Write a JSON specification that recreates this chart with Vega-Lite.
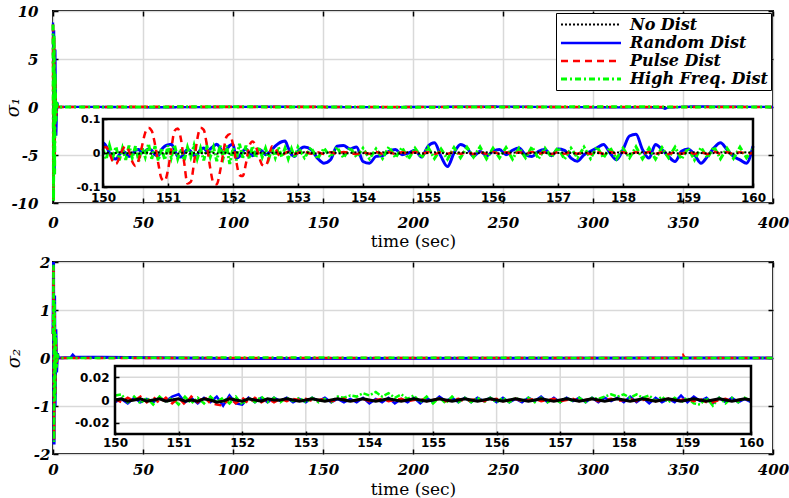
{
"$schema": "https://vega.github.io/schema/vega-lite/v6.json",
"padding": {"left": 3, "top": 3, "right": 10, "bottom": 3},
"spacing": 4,
"config": {
 "view": {"stroke": "black", "strokeWidth": 2},
 "axis": {"labelColor": "black", "tickColor": "black", "labelFlush": false, "labelOverlap": false, "domain": false},
 "line": {"strokeCap": "butt"}
},
"datasets": {
 "tm": [
  {"s":"No Dist","t":0,"v":8.5},{"s":"No Dist","t":0.3,"v":-9.5},{"s":"No Dist","t":0.6,"v":7},{"s":"No Dist","t":0.9,"v":-6},{"s":"No Dist","t":1.2,"v":3},{"s":"No Dist","t":1.6,"v":-1},{"s":"No Dist","t":2.2,"v":0.2},{"s":"No Dist","t":3,"v":0},{"s":"No Dist","t":400,"v":0},
  {"s":"Random Dist","t":0,"v":8.8},{"s":"Random Dist","t":0.3,"v":-9.2},{"s":"Random Dist","t":0.6,"v":8},{"s":"Random Dist","t":0.9,"v":-7},{"s":"Random Dist","t":1.3,"v":6},{"s":"Random Dist","t":1.8,"v":-3},{"s":"Random Dist","t":2.3,"v":0.5},{"s":"Random Dist","t":3,"v":0},{"s":"Random Dist","t":12,"v":0.02},{"s":"Random Dist","t":60,"v":-0.03},{"s":"Random Dist","t":120,"v":0.03},{"s":"Random Dist","t":180,"v":-0.02},{"s":"Random Dist","t":245,"v":0.05},{"s":"Random Dist","t":300,"v":-0.03},{"s":"Random Dist","t":338,"v":-0.05},{"s":"Random Dist","t":340,"v":-0.18},{"s":"Random Dist","t":342,"v":-0.05},{"s":"Random Dist","t":355,"v":0.06},{"s":"Random Dist","t":400,"v":0},
  {"s":"Pulse Dist","t":0,"v":8.6},{"s":"Pulse Dist","t":0.3,"v":-9.6},{"s":"Pulse Dist","t":0.6,"v":7.2},{"s":"Pulse Dist","t":0.9,"v":-6},{"s":"Pulse Dist","t":1.2,"v":3},{"s":"Pulse Dist","t":1.6,"v":-1},{"s":"Pulse Dist","t":2.2,"v":0.2},{"s":"Pulse Dist","t":3,"v":0},{"s":"Pulse Dist","t":150,"v":0.02},{"s":"Pulse Dist","t":152,"v":-0.02},{"s":"Pulse Dist","t":153,"v":0},{"s":"Pulse Dist","t":400,"v":0},
  {"s":"High Freq. Dist","t":0,"v":8.6},{"s":"High Freq. Dist","t":0.3,"v":-9.8},{"s":"High Freq. Dist","t":0.6,"v":7.5},{"s":"High Freq. Dist","t":0.9,"v":-7},{"s":"High Freq. Dist","t":1.2,"v":3.5},{"s":"High Freq. Dist","t":1.6,"v":-1.5},{"s":"High Freq. Dist","t":2.2,"v":0.3},{"s":"High Freq. Dist","t":3,"v":0},{"s":"High Freq. Dist","t":100,"v":0.02},{"s":"High Freq. Dist","t":200,"v":-0.02},{"s":"High Freq. Dist","t":300,"v":0.02},{"s":"High Freq. Dist","t":400,"v":0}
 ],
 "bm": [
  {"t":0,"n":0.5,"r":0.5,"p":0.5,"h":0.5},
  {"t":0.3,"n":1.9,"r":2.0,"p":1.9,"h":1.95},
  {"t":0.6,"n":-1.7,"r":-1.8,"p":-1.7,"h":-1.75},
  {"t":0.9,"n":1.1,"r":1.3,"p":1.1,"h":1.2},
  {"t":1.2,"n":-0.8,"r":-1.0,"p":-0.8,"h":-0.9},
  {"t":1.6,"n":0.4,"r":0.6,"p":0.4,"h":0.5},
  {"t":2.0,"n":-0.15,"r":-0.3,"p":-0.15,"h":-0.2},
  {"t":2.5,"n":0.05,"r":0.1,"p":0.05,"h":0.08},
  {"t":3,"n":0,"r":0,"p":0,"h":0},
  {"t":10,"n":0,"r":0.01,"p":0,"h":0},
  {"t":11,"n":0,"r":0.06,"p":0,"h":0},
  {"t":12,"n":0,"r":0.02,"p":0,"h":0},
  {"t":100,"n":0,"r":-0.01,"p":0,"h":0.01},
  {"t":349,"n":0,"r":0,"p":0,"h":0},
  {"t":350,"n":0,"r":0,"p":0.06,"h":0},
  {"t":351,"n":0,"r":0,"p":0,"h":0},
  {"t":400,"n":0,"r":0,"p":0,"h":0}
 ],
 "tbox": [{"x0":150,"x1":160,"y0":-0.1,"y1":0.1}],
 "bbox": [{"x0":150,"x1":160,"y0":-0.03,"y1":0.03}],
 "gx": [{"g":151},{"g":152},{"g":153},{"g":154},{"g":155},{"g":156},{"g":157},{"g":158},{"g":159}],
 "bgy": [{"g":-0.02},{"g":0},{"g":0.02}],
 "ti": [
  {"t":150.00,"n":0,"r":0.03,"p":0.015,"h":0.012},
  {"t":150.05,"n":0.002,"r":0.02,"p":0.018,"h":-0.018},
  {"t":150.10,"n":0,"r":0.0,"p":0.0,"h":0.022},
  {"t":150.15,"n":-0.002,"r":-0.015,"p":-0.025,"h":-0.012},
  {"t":150.20,"n":0,"r":-0.018,"p":-0.032,"h":0.018},
  {"t":150.25,"n":0.002,"r":-0.005,"p":-0.015,"h":-0.022},
  {"t":150.30,"n":0,"r":0.005,"p":0.01,"h":0.014},
  {"t":150.35,"n":-0.002,"r":0.0,"p":0.02,"h":-0.02},
  {"t":150.40,"n":0,"r":-0.01,"p":0.005,"h":0.022},
  {"t":150.45,"n":0.002,"r":-0.005,"p":-0.025,"h":-0.014},
  {"t":150.50,"n":0,"r":0.008,"p":-0.038,"h":0.02},
  {"t":150.55,"n":-0.002,"r":0.01,"p":-0.02,"h":-0.024},
  {"t":150.60,"n":0,"r":0.0,"p":0.02,"h":0.017},
  {"t":150.65,"n":0.002,"r":0.005,"p":0.06,"h":-0.012},
  {"t":150.70,"n":0,"r":0.012,"p":0.074,"h":0.027},
  {"t":150.75,"n":-0.002,"r":0.008,"p":0.065,"h":-0.017},
  {"t":150.80,"n":0,"r":-0.005,"p":0.025,"h":0.02},
  {"t":150.85,"n":0.002,"r":-0.008,"p":-0.03,"h":-0.022},
  {"t":150.90,"n":0,"r":0.01,"p":-0.075,"h":0.014},
  {"t":150.95,"n":-0.002,"r":0.02,"p":-0.082,"h":-0.02},
  {"t":151.00,"n":0,"r":0.024,"p":-0.05,"h":0.022},
  {"t":151.05,"n":0.002,"r":0.026,"p":0.01,"h":-0.014},
  {"t":151.10,"n":0,"r":0.01,"p":0.065,"h":0.024},
  {"t":151.15,"n":-0.002,"r":-0.01,"p":0.072,"h":-0.017},
  {"t":151.20,"n":0,"r":-0.012,"p":0.04,"h":0.012},
  {"t":151.25,"n":0.002,"r":0.0,"p":-0.03,"h":-0.022},
  {"t":151.30,"n":0,"r":0.01,"p":-0.09,"h":0.017},
  {"t":151.35,"n":-0.002,"r":0.005,"p":-0.085,"h":-0.012},
  {"t":151.40,"n":0,"r":-0.008,"p":-0.03,"h":0.022},
  {"t":151.45,"n":0.002,"r":-0.004,"p":0.04,"h":-0.017},
  {"t":151.50,"n":0,"r":0.01,"p":0.074,"h":0.014},
  {"t":151.55,"n":-0.002,"r":0.015,"p":0.068,"h":-0.022},
  {"t":151.60,"n":0,"r":0.005,"p":0.02,"h":0.02},
  {"t":151.65,"n":0.002,"r":0.012,"p":-0.045,"h":-0.012},
  {"t":151.70,"n":0,"r":0.02,"p":-0.088,"h":0.017},
  {"t":151.75,"n":-0.002,"r":0.026,"p":-0.092,"h":-0.024},
  {"t":151.80,"n":0,"r":0.015,"p":-0.055,"h":0.022},
  {"t":151.85,"n":0.002,"r":0.0,"p":0.0,"h":-0.014},
  {"t":151.90,"n":0,"r":0.01,"p":0.048,"h":0.022},
  {"t":151.95,"n":-0.002,"r":0.022,"p":0.055,"h":-0.032},
  {"t":152.00,"n":0,"r":0.026,"p":0.025,"h":0.014},
  {"t":152.05,"n":0.002,"r":-0.015,"p":-0.025,"h":-0.022},
  {"t":152.10,"n":0,"r":-0.01,"p":-0.065,"h":0.027},
  {"t":152.15,"n":-0.002,"r":0.005,"p":-0.068,"h":-0.014},
  {"t":152.20,"n":0,"r":0.012,"p":-0.03,"h":0.022},
  {"t":152.25,"n":0.002,"r":0.0,"p":0.02,"h":-0.017},
  {"t":152.30,"n":0,"r":-0.008,"p":0.034,"h":0.02},
  {"t":152.35,"n":-0.002,"r":0.0,"p":0.02,"h":-0.014},
  {"t":152.40,"n":0,"r":0.01,"p":-0.01,"h":0.017},
  {"t":152.45,"n":0.002,"r":0.005,"p":-0.035,"h":-0.012},
  {"t":152.50,"n":0,"r":-0.005,"p":-0.038,"h":0.014},
  {"t":152.55,"n":-0.002,"r":0.0,"p":-0.015,"h":-0.017},
  {"t":152.60,"n":0,"r":0.01,"p":0.02,"h":0.012},
  {"t":152.65,"n":0.002,"r":0.02,"p":0.015,"h":-0.014},
  {"t":152.70,"n":0,"r":0.028,"p":-0.005,"h":0.017},
  {"t":152.75,"n":-0.002,"r":0.033,"p":-0.01,"h":-0.012},
  {"t":152.80,"n":0,"r":0.035,"p":0.0,"h":0.014},
  {"t":152.85,"n":0.002,"r":0.015,"p":0.004,"h":-0.017},
  {"t":152.90,"n":0,"r":-0.005,"p":0.0,"h":0.012},
  {"t":152.95,"n":-0.002,"r":-0.01,"p":-0.003,"h":-0.014},
  {"t":153.00,"n":0,"r":0.005,"p":0.0,"h":0.017},
  {"t":153.1,"n":0.002,"r":0.018,"p":0.003,"h":-0.014},
  {"t":153.2,"n":0,"r":0.01,"p":-0.002,"h":0.016},
  {"t":153.3,"n":-0.002,"r":-0.015,"p":0.002,"h":-0.017},
  {"t":153.4,"n":0,"r":-0.03,"p":-0.003,"h":0.014},
  {"t":153.5,"n":0.002,"r":-0.02,"p":0.002,"h":-0.012},
  {"t":153.6,"n":0,"r":0.02,"p":-0.002,"h":0.017},
  {"t":153.7,"n":-0.002,"r":0.022,"p":0.003,"h":-0.014},
  {"t":153.8,"n":0,"r":0.012,"p":0.0,"h":0.016},
  {"t":153.9,"n":0.002,"r":0.018,"p":-0.003,"h":-0.012},
  {"t":154.0,"n":0,"r":-0.025,"p":0.002,"h":0.014},
  {"t":154.1,"n":-0.002,"r":-0.03,"p":-0.002,"h":-0.017},
  {"t":154.2,"n":0,"r":-0.01,"p":0.003,"h":0.012},
  {"t":154.3,"n":0.002,"r":-0.008,"p":-0.002,"h":-0.016},
  {"t":154.4,"n":0,"r":0.005,"p":0.002,"h":0.018},
  {"t":154.5,"n":-0.002,"r":0.01,"p":-0.003,"h":-0.014},
  {"t":154.6,"n":0,"r":-0.005,"p":0.002,"h":0.016},
  {"t":154.7,"n":0.002,"r":0.0,"p":-0.002,"h":-0.017},
  {"t":154.8,"n":0,"r":0.008,"p":0.003,"h":0.014},
  {"t":154.9,"n":-0.002,"r":-0.012,"p":-0.002,"h":-0.014},
  {"t":155.0,"n":0,"r":0.02,"p":0.002,"h":0.017},
  {"t":155.1,"n":0.002,"r":0.03,"p":-0.003,"h":-0.016},
  {"t":155.2,"n":0,"r":-0.01,"p":0.002,"h":0.012},
  {"t":155.3,"n":-0.002,"r":-0.04,"p":-0.002,"h":-0.018},
  {"t":155.4,"n":0,"r":0.0,"p":0.003,"h":0.016},
  {"t":155.5,"n":0.002,"r":0.025,"p":-0.002,"h":-0.014},
  {"t":155.6,"n":0,"r":0.015,"p":0.002,"h":0.017},
  {"t":155.7,"n":-0.002,"r":-0.01,"p":-0.003,"h":-0.012},
  {"t":155.8,"n":0,"r":0.005,"p":0.002,"h":0.018},
  {"t":155.9,"n":0.002,"r":-0.008,"p":-0.002,"h":-0.017},
  {"t":156.0,"n":0,"r":0.005,"p":0.003,"h":0.014},
  {"t":156.1,"n":-0.002,"r":0.01,"p":-0.002,"h":-0.014},
  {"t":156.2,"n":0,"r":-0.005,"p":0.002,"h":0.016},
  {"t":156.3,"n":0.002,"r":0.008,"p":-0.003,"h":-0.018},
  {"t":156.4,"n":0,"r":0.015,"p":0.002,"h":0.014},
  {"t":156.5,"n":-0.002,"r":-0.005,"p":-0.002,"h":-0.014},
  {"t":156.6,"n":0,"r":-0.01,"p":0.003,"h":0.018},
  {"t":156.7,"n":0.002,"r":0.005,"p":-0.002,"h":-0.017},
  {"t":156.8,"n":0,"r":0.01,"p":0.002,"h":0.014},
  {"t":156.9,"n":-0.002,"r":-0.008,"p":-0.003,"h":-0.012},
  {"t":157.0,"n":0,"r":0.012,"p":0.002,"h":0.016},
  {"t":157.1,"n":0.002,"r":0.008,"p":-0.002,"h":-0.018},
  {"t":157.2,"n":0,"r":-0.015,"p":0.003,"h":0.014},
  {"t":157.3,"n":-0.002,"r":-0.024,"p":-0.002,"h":-0.014},
  {"t":157.4,"n":0,"r":-0.005,"p":0.002,"h":0.017},
  {"t":157.5,"n":0.002,"r":0.005,"p":-0.003,"h":-0.016},
  {"t":157.6,"n":0,"r":0.015,"p":0.002,"h":0.018},
  {"t":157.7,"n":-0.002,"r":0.025,"p":-0.002,"h":-0.014},
  {"t":157.8,"n":0,"r":0.0,"p":0.003,"h":0.016},
  {"t":157.9,"n":0.002,"r":-0.02,"p":-0.002,"h":-0.017},
  {"t":158.0,"n":0,"r":0.01,"p":0.002,"h":0.014},
  {"t":158.1,"n":-0.002,"r":0.05,"p":-0.003,"h":-0.014},
  {"t":158.2,"n":0,"r":0.055,"p":0.002,"h":0.018},
  {"t":158.3,"n":0.002,"r":0.01,"p":-0.002,"h":-0.017},
  {"t":158.4,"n":0,"r":-0.015,"p":0.003,"h":0.014},
  {"t":158.5,"n":-0.002,"r":0.025,"p":-0.002,"h":-0.018},
  {"t":158.6,"n":0,"r":0.01,"p":0.002,"h":0.016},
  {"t":158.7,"n":0.002,"r":-0.01,"p":-0.003,"h":-0.014},
  {"t":158.8,"n":0,"r":-0.025,"p":0.002,"h":0.017},
  {"t":158.9,"n":-0.002,"r":0.005,"p":-0.002,"h":-0.018},
  {"t":159.0,"n":0,"r":0.012,"p":0.003,"h":0.014},
  {"t":159.1,"n":0.002,"r":-0.005,"p":-0.002,"h":-0.02},
  {"t":159.2,"n":0,"r":-0.03,"p":0.002,"h":0.016},
  {"t":159.3,"n":-0.002,"r":-0.01,"p":-0.003,"h":-0.014},
  {"t":159.4,"n":0,"r":0.015,"p":0.004,"h":0.018},
  {"t":159.5,"n":0.002,"r":0.03,"p":-0.002,"h":-0.017},
  {"t":159.6,"n":0,"r":0.01,"p":0.002,"h":0.014},
  {"t":159.7,"n":-0.002,"r":-0.01,"p":-0.003,"h":-0.016},
  {"t":159.8,"n":0,"r":-0.02,"p":0.002,"h":0.017},
  {"t":159.9,"n":0.002,"r":-0.03,"p":-0.002,"h":-0.014},
  {"t":160.0,"n":0,"r":0.02,"p":0.0,"h":0.012}
 ],
 "bi": [
  {"t":150.0,"n":0,"r":-0.002,"p":0.001,"h":0.004},
  {"t":150.1,"n":0.001,"r":0.001,"p":-0.002,"h":0.005},
  {"t":150.2,"n":-0.001,"r":-0.003,"p":0.002,"h":-0.002},
  {"t":150.3,"n":0,"r":0.002,"p":-0.001,"h":0.003},
  {"t":150.4,"n":0.001,"r":-0.002,"p":0.003,"h":-0.003},
  {"t":150.5,"n":-0.001,"r":0.001,"p":-0.002,"h":0.002},
  {"t":150.6,"n":0,"r":-0.002,"p":0.003,"h":-0.004},
  {"t":150.7,"n":0.001,"r":0.002,"p":-0.003,"h":0.003},
  {"t":150.8,"n":-0.001,"r":-0.001,"p":0.002,"h":-0.002},
  {"t":150.9,"n":0,"r":0.003,"p":-0.003,"h":0.002},
  {"t":151.0,"n":0.001,"r":0.005,"p":0.002,"h":-0.004},
  {"t":151.1,"n":-0.001,"r":-0.002,"p":-0.004,"h":0.003},
  {"t":151.2,"n":0,"r":0.002,"p":0.003,"h":-0.003},
  {"t":151.3,"n":-0.001,"r":-0.003,"p":-0.002,"h":0.002},
  {"t":151.4,"n":0.001,"r":0.002,"p":0.003,"h":-0.003},
  {"t":151.5,"n":0,"r":-0.002,"p":-0.003,"h":0.003},
  {"t":151.6,"n":-0.002,"r":0.003,"p":-0.004,"h":-0.002},
  {"t":151.7,"n":-0.001,"r":-0.005,"p":-0.005,"h":0.002},
  {"t":151.8,"n":0.001,"r":0.004,"p":0.002,"h":-0.003},
  {"t":151.9,"n":0,"r":-0.003,"p":-0.003,"h":0.003},
  {"t":152.0,"n":-0.001,"r":-0.004,"p":0.002,"h":-0.004},
  {"t":152.1,"n":0.001,"r":0.002,"p":-0.003,"h":0.002},
  {"t":152.2,"n":0,"r":-0.002,"p":0.002,"h":-0.002},
  {"t":152.3,"n":-0.001,"r":0.002,"p":-0.002,"h":0.003},
  {"t":152.4,"n":0.001,"r":-0.002,"p":0.001,"h":-0.002},
  {"t":152.5,"n":0,"r":0.002,"p":-0.002,"h":0.002},
  {"t":152.6,"n":0,"r":-0.001,"p":0.001,"h":-0.002},
  {"t":152.7,"n":0.001,"r":0.002,"p":-0.001,"h":0.002},
  {"t":152.8,"n":0,"r":-0.002,"p":0.001,"h":-0.001},
  {"t":152.9,"n":-0.001,"r":0.001,"p":0,"h":0.002},
  {"t":153.0,"n":0,"r":-0.002,"p":0.001,"h":-0.002},
  {"t":153.1,"n":0.001,"r":0.002,"p":-0.001,"h":0.002},
  {"t":153.2,"n":0,"r":-0.001,"p":0,"h":-0.002},
  {"t":153.3,"n":-0.001,"r":0.002,"p":0.001,"h":0.001},
  {"t":153.4,"n":0,"r":-0.002,"p":-0.001,"h":-0.002},
  {"t":153.5,"n":0.001,"r":0.001,"p":0,"h":0.003},
  {"t":153.6,"n":0,"r":-0.002,"p":0.001,"h":0.002},
  {"t":153.7,"n":-0.001,"r":0.001,"p":-0.001,"h":0.004},
  {"t":153.8,"n":0,"r":-0.002,"p":0,"h":0.003},
  {"t":153.9,"n":0.001,"r":0.002,"p":0.001,"h":0.006},
  {"t":154.0,"n":0,"r":-0.003,"p":-0.001,"h":0.004},
  {"t":154.1,"n":-0.001,"r":0.001,"p":0,"h":0.007},
  {"t":154.2,"n":0,"r":-0.002,"p":0.001,"h":0.003},
  {"t":154.3,"n":0.001,"r":0.002,"p":-0.001,"h":0.006},
  {"t":154.4,"n":0,"r":-0.003,"p":0,"h":0.002},
  {"t":154.5,"n":-0.001,"r":0.001,"p":0.001,"h":0.005},
  {"t":154.6,"n":0,"r":-0.002,"p":-0.001,"h":0.001},
  {"t":154.7,"n":0.001,"r":0.002,"p":0,"h":0.004},
  {"t":154.8,"n":0,"r":-0.003,"p":0.001,"h":-0.002},
  {"t":154.9,"n":-0.001,"r":0.002,"p":-0.001,"h":0.003},
  {"t":155.0,"n":0,"r":-0.002,"p":0,"h":-0.003},
  {"t":155.1,"n":0.001,"r":0.003,"p":0.001,"h":0.002},
  {"t":155.2,"n":0,"r":-0.001,"p":-0.001,"h":-0.003},
  {"t":155.3,"n":-0.001,"r":0.002,"p":0,"h":0.003},
  {"t":155.4,"n":0,"r":-0.002,"p":0.001,"h":-0.002},
  {"t":155.5,"n":0.001,"r":0.002,"p":-0.001,"h":0.002},
  {"t":155.6,"n":0,"r":-0.002,"p":0,"h":-0.002},
  {"t":155.7,"n":-0.001,"r":0.002,"p":0.001,"h":0.002},
  {"t":155.8,"n":0,"r":-0.001,"p":-0.001,"h":-0.002},
  {"t":155.9,"n":0.001,"r":0.002,"p":0,"h":0.002},
  {"t":156.0,"n":0,"r":-0.002,"p":0.001,"h":-0.002},
  {"t":156.1,"n":-0.001,"r":0.002,"p":-0.001,"h":0.002},
  {"t":156.2,"n":0,"r":-0.002,"p":0,"h":-0.002},
  {"t":156.3,"n":0.001,"r":0.001,"p":0.001,"h":0.002},
  {"t":156.4,"n":0,"r":-0.002,"p":-0.001,"h":-0.001},
  {"t":156.5,"n":-0.001,"r":0.002,"p":0,"h":0.002},
  {"t":156.6,"n":0,"r":-0.001,"p":0.001,"h":-0.002},
  {"t":156.7,"n":0.001,"r":0.003,"p":-0.001,"h":0.002},
  {"t":156.8,"n":0,"r":-0.002,"p":0,"h":-0.002},
  {"t":156.9,"n":-0.001,"r":0.002,"p":0.001,"h":0.001},
  {"t":157.0,"n":0,"r":-0.002,"p":-0.001,"h":-0.002},
  {"t":157.1,"n":0.001,"r":0.002,"p":0,"h":0.002},
  {"t":157.2,"n":0,"r":-0.001,"p":0.001,"h":-0.001},
  {"t":157.3,"n":-0.001,"r":0.002,"p":-0.001,"h":0.002},
  {"t":157.4,"n":0,"r":-0.002,"p":0,"h":-0.002},
  {"t":157.5,"n":0.001,"r":0.002,"p":0.001,"h":0.002},
  {"t":157.6,"n":0,"r":-0.002,"p":-0.001,"h":0.001},
  {"t":157.7,"n":-0.001,"r":0.002,"p":0,"h":0.003},
  {"t":157.8,"n":0,"r":-0.001,"p":0.001,"h":0.005},
  {"t":157.9,"n":0.001,"r":0.002,"p":-0.001,"h":0.003},
  {"t":158.0,"n":0,"r":-0.002,"p":0,"h":0.005},
  {"t":158.1,"n":-0.001,"r":0.003,"p":0.001,"h":0.002},
  {"t":158.2,"n":0,"r":-0.002,"p":-0.001,"h":0.005},
  {"t":158.3,"n":0.001,"r":0.002,"p":0,"h":0.002},
  {"t":158.4,"n":0,"r":-0.003,"p":0.001,"h":0.004},
  {"t":158.5,"n":-0.001,"r":0.002,"p":-0.001,"h":-0.001},
  {"t":158.6,"n":0,"r":-0.002,"p":0,"h":0.003},
  {"t":158.7,"n":0.001,"r":0.001,"p":0.001,"h":-0.002},
  {"t":158.8,"n":0,"r":-0.002,"p":-0.001,"h":0.002},
  {"t":158.9,"n":-0.001,"r":0.004,"p":0,"h":-0.002},
  {"t":159.0,"n":0,"r":-0.002,"p":0.001,"h":0.002},
  {"t":159.1,"n":0.001,"r":0.003,"p":-0.001,"h":-0.003},
  {"t":159.2,"n":0,"r":-0.001,"p":0.001,"h":-0.004},
  {"t":159.3,"n":-0.001,"r":0.002,"p":-0.002,"h":0.002},
  {"t":159.4,"n":0,"r":-0.003,"p":-0.002,"h":-0.005},
  {"t":159.5,"n":0.001,"r":0.002,"p":0,"h":0.002},
  {"t":159.6,"n":0,"r":-0.002,"p":0.001,"h":-0.003},
  {"t":159.7,"n":-0.001,"r":0.002,"p":-0.001,"h":0.002},
  {"t":159.8,"n":0,"r":-0.002,"p":0,"h":-0.002},
  {"t":159.9,"n":0.001,"r":0.001,"p":0.001,"h":0.002},
  {"t":160.0,"n":0,"r":-0.002,"p":0,"h":-0.001}
 ]
},
"vconcat": [
 {
  "width": 720, "height": 192,
  "resolve": {"scale": {"x": "independent", "y": "independent"}},
  "layer": [
   {
    "data": {"name": "tm"},
    "mark": {"type": "line"},
    "encoding": {
     "x": {"field": "t", "type": "quantitative",
      "scale": {"domain": [0, 400], "nice": false, "zero": false},
      "axis": {"values": [0,50,100,150,200,250,300,350,400], "grid": true, "gridColor": "#d9d9d9", "gridWidth": 1.5, "tickSize": -5, "tickWidth": 1.5,
       "labelFont": "DejaVu Serif", "labelFontStyle": "italic", "labelFontWeight": "bold", "labelFontSize": 15, "labelPadding": 17,
       "title": "time (sec)", "titleFont": "DejaVu Serif", "titleFontWeight": "normal", "titleFontSize": 17, "titleColor": "black", "titleY": 38, "titleBaseline": "middle"}},
     "y": {"field": "v", "type": "quantitative",
      "scale": {"domain": [-10, 10], "nice": false},
      "axis": {"values": [-10,-5,0,5,10], "grid": true, "gridColor": "#d9d9d9", "gridWidth": 1.5, "tickSize": -5, "tickWidth": 1.5,
       "labelFont": "DejaVu Serif", "labelFontStyle": "italic", "labelFontWeight": "bold", "labelFontSize": 15, "labelPadding": 20,
       "labelExpr": "replace(datum.label, '−', '-')",
       "title": "σ₁", "titleFont": "DejaVu Serif", "titleFontStyle": "italic", "titleFontWeight": "normal", "titleFontSize": 18, "titleColor": "black", "titleX": -40, "titleY": 96, "titleBaseline": "middle"}},
     "color": {"field": "s", "type": "nominal",
      "scale": {"domain": ["No Dist","Random Dist","Pulse Dist","High Freq. Dist"], "range": ["#000000","#0000ff","#ff0000","#00ff00"]},
      "legend": {"orient": "top-right", "offset": 2, "title": null, "fillColor": "white", "strokeColor": "black", "padding": 3,
       "symbolType": "M-4,0H4", "symbolSize": 225, "symbolOffset": 23, "labelFont": "DejaVu Serif", "labelFontStyle": "italic", "labelFontWeight": "bold",
       "labelFontSize": 16, "labelOffset": 30, "rowPadding": 1, "labelColor": "black", "cornerRadius": 0}},
     "strokeDash": {"field": "s", "type": "nominal",
      "scale": {"domain": ["No Dist","Random Dist","Pulse Dist","High Freq. Dist"], "range": [[2,2],[1,0],[7,5],[6,3,2,3]]}},
     "strokeWidth": {"field": "s", "type": "nominal",
      "scale": {"domain": ["No Dist","Random Dist","Pulse Dist","High Freq. Dist"], "range": [2,3,2.5,2.5]}}
    }
   },
   {
    "data": {"name": "tbox"},
    "mark": {"type": "point", "opacity": 0},
    "encoding": {
     "x": {"datum": 0, "scale": {"domain": [0, 400], "nice": false, "zero": false},
      "axis": {"orient": "top", "values": [0,50,100,150,200,250,300,350,400], "labels": false, "grid": false, "tickSize": -5, "tickWidth": 1.5, "title": null}},
     "y": {"datum": 0, "scale": {"domain": [-10, 10], "nice": false},
      "axis": {"orient": "right", "values": [-10,-5,0,5,10], "labels": false, "grid": false, "tickSize": -5, "tickWidth": 1.5, "title": null}}
    }
   },
   {
    "layer": [
     {"data": {"name": "tbox"}, "mark": {"type": "rect", "fill": "white"},
      "encoding": {
       "x": {"field": "x0", "type": "quantitative", "title": null,
        "scale": {"domain": [150, 160], "range": [50, 700], "nice": false, "zero": false},
        "axis": {"orient": "bottom", "offset": -16, "values": [150,151,152,153,154,155,156,157,158,159,160], "format": "d", "grid": false, "zindex": 1,
         "tickSize": -4, "tickWidth": 1.5, "labelFont": "DejaVu Sans", "labelFontWeight": "bold", "labelFontSize": 12, "labelPadding": 9, "title": null}},
       "x2": {"field": "x1"},
       "y": {"field": "y0", "type": "quantitative", "title": null,
        "scale": {"domain": [-0.1, 0.1], "range": [176, 108], "nice": false, "zero": false},
        "axis": {"orient": "left", "offset": -50, "values": [-0.1, 0, 0.1], "format": "~g", "grid": false, "zindex": 1,
         "labelExpr": "replace(datum.label, '−', '-')",
         "tickSize": -4, "tickWidth": 1.5, "labelFont": "DejaVu Sans", "labelFontWeight": "bold", "labelFontSize": 11, "labelPadding": 7, "title": null}},
       "y2": {"field": "y1"}}},
     {"data": {"name": "gx"}, "mark": {"type": "rule", "color": "#d9d9d9", "strokeWidth": 1.5},
      "encoding": {"x": {"field": "g", "type": "quantitative", "title": null}, "y": {"datum": -0.1, "title": null}, "y2": {"datum": 0.1}}},
     {"data": {"name": "ti"}, "mark": {"type": "line", "color": "#0000ff", "strokeWidth": 3, "interpolate": "monotone"},
      "encoding": {"x": {"field": "t", "type": "quantitative", "title": null}, "y": {"field": "r", "type": "quantitative", "title": null}}},
     {"data": {"name": "ti"}, "mark": {"type": "line", "color": "#00ff00", "strokeWidth": 3, "strokeDash": [6,2,2,2]},
      "encoding": {"x": {"field": "t", "type": "quantitative", "title": null}, "y": {"field": "h", "type": "quantitative", "title": null}}},
     {"data": {"name": "ti"}, "mark": {"type": "line", "color": "#ff0000", "strokeWidth": 2.5, "strokeDash": [7,5], "interpolate": "monotone"},
      "encoding": {"x": {"field": "t", "type": "quantitative", "title": null}, "y": {"field": "p", "type": "quantitative", "title": null}}},
     {"data": {"name": "ti"}, "mark": {"type": "line", "color": "#000000", "strokeWidth": 2, "strokeDash": [2,2]},
      "encoding": {"x": {"field": "t", "type": "quantitative", "title": null}, "y": {"field": "n", "type": "quantitative", "title": null}}},
     {"data": {"name": "tbox"}, "mark": {"type": "rect", "fill": null, "stroke": "black", "strokeWidth": 2.5},
      "encoding": {"x": {"field": "x0", "type": "quantitative", "title": null}, "x2": {"field": "x1"}, "y": {"field": "y0", "type": "quantitative", "title": null}, "y2": {"field": "y1"}}}
    ]
   }
  ]
 },
 {
  "width": 720, "height": 192,
  "resolve": {"scale": {"x": "independent", "y": "independent"}},
  "layer": [
   {
    "data": {"name": "bm"},
    "layer": [
     {"mark": {"type": "line", "color": "#000000", "strokeWidth": 2, "strokeDash": [2,2]},
      "encoding": {
       "x": {"field": "t", "type": "quantitative",
        "scale": {"domain": [0, 400], "nice": false, "zero": false},
        "axis": {"values": [0,50,100,150,200,250,300,350,400], "grid": true, "gridColor": "#d9d9d9", "gridWidth": 1.5, "tickSize": -5, "tickWidth": 1.5,
         "labelFont": "DejaVu Serif", "labelFontStyle": "italic", "labelFontWeight": "bold", "labelFontSize": 15, "labelPadding": 13,
         "title": "time (sec)", "titleFont": "DejaVu Serif", "titleFontWeight": "normal", "titleFontSize": 17, "titleColor": "black", "titleY": 35, "titleBaseline": "middle"}},
       "y": {"field": "n", "type": "quantitative",
        "scale": {"domain": [-2, 2], "nice": false},
        "axis": {"values": [-2,-1,0,1,2], "grid": true, "gridColor": "#d9d9d9", "gridWidth": 1.5, "tickSize": -5, "tickWidth": 1.5,
         "labelFont": "DejaVu Serif", "labelFontStyle": "italic", "labelFontWeight": "bold", "labelFontSize": 15, "labelPadding": 8,
         "labelExpr": "replace(datum.label, '−', '-')",
         "title": "σ₂", "titleFont": "DejaVu Serif", "titleFontStyle": "italic", "titleFontWeight": "normal", "titleFontSize": 18, "titleColor": "black", "titleX": -39, "titleY": 96, "titleBaseline": "middle"}}}},
     {"mark": {"type": "line", "color": "#0000ff", "strokeWidth": 3},
      "encoding": {"x": {"field": "t", "type": "quantitative", "title": "time (sec)"}, "y": {"field": "r", "type": "quantitative", "title": "σ₂"}}},
     {"mark": {"type": "line", "color": "#ff0000", "strokeWidth": 2.5, "strokeDash": [7,5]},
      "encoding": {"x": {"field": "t", "type": "quantitative", "title": "time (sec)"}, "y": {"field": "p", "type": "quantitative", "title": "σ₂"}}},
     {"mark": {"type": "line", "color": "#00ff00", "strokeWidth": 2.5, "strokeDash": [6,3,2,3]},
      "encoding": {"x": {"field": "t", "type": "quantitative", "title": "time (sec)"}, "y": {"field": "h", "type": "quantitative", "title": "σ₂"}}}
    ]
   },
   {
    "data": {"name": "bbox"},
    "mark": {"type": "point", "opacity": 0},
    "encoding": {
     "x": {"datum": 0, "scale": {"domain": [0, 400], "nice": false, "zero": false},
      "axis": {"orient": "top", "values": [0,50,100,150,200,250,300,350,400], "labels": false, "grid": false, "tickSize": -5, "tickWidth": 1.5, "title": null}},
     "y": {"datum": 0, "scale": {"domain": [-2, 2], "nice": false},
      "axis": {"orient": "right", "values": [-2,-1,0,1,2], "labels": false, "grid": false, "tickSize": -5, "tickWidth": 1.5, "title": null}}
    }
   },
   {
    "layer": [
     {"data": {"name": "bbox"}, "mark": {"type": "rect", "fill": "white"},
      "encoding": {
       "x": {"field": "x0", "type": "quantitative", "title": null,
        "scale": {"domain": [150, 160], "range": [62, 698], "nice": false, "zero": false},
        "axis": {"orient": "bottom", "offset": -19, "values": [150,151,152,153,154,155,156,157,158,159,160], "format": "d", "grid": false, "zindex": 1,
         "tickSize": -4, "tickWidth": 1.5, "labelFont": "DejaVu Sans", "labelFontWeight": "bold", "labelFontSize": 12, "labelPadding": 6, "title": null}},
       "x2": {"field": "x1"},
       "y": {"field": "y0", "type": "quantitative", "title": null,
        "scale": {"domain": [-0.03, 0.03], "range": [172, 104], "nice": false, "zero": false},
        "axis": {"orient": "left", "offset": -62, "values": [-0.02, 0, 0.02], "format": "~g", "grid": false, "zindex": 1,
         "labelExpr": "replace(datum.label, '−', '-')",
         "tickSize": -4, "tickWidth": 1.5, "labelFont": "DejaVu Sans", "labelFontWeight": "bold", "labelFontSize": 12, "labelPadding": 10, "title": null}},
       "y2": {"field": "y1"}}},
     {"data": {"name": "gx"}, "mark": {"type": "rule", "color": "#d9d9d9", "strokeWidth": 1.5},
      "encoding": {"x": {"field": "g", "type": "quantitative", "title": null}, "y": {"datum": -0.03, "title": null}, "y2": {"datum": 0.03}}},
     {"data": {"name": "bgy"}, "mark": {"type": "rule", "color": "#d9d9d9", "strokeWidth": 1.5},
      "encoding": {"y": {"field": "g", "type": "quantitative", "title": null}, "x": {"datum": 150, "title": null}, "x2": {"datum": 160}}},
     {"data": {"name": "bi"}, "mark": {"type": "line", "color": "#0000ff", "strokeWidth": 2.5},
      "encoding": {"x": {"field": "t", "type": "quantitative", "title": null}, "y": {"field": "r", "type": "quantitative", "title": null}}},
     {"data": {"name": "bi"}, "mark": {"type": "line", "color": "#00ff00", "strokeWidth": 2.5, "strokeDash": [6,2,2,2]},
      "encoding": {"x": {"field": "t", "type": "quantitative", "title": null}, "y": {"field": "h", "type": "quantitative", "title": null}}},
     {"data": {"name": "bi"}, "mark": {"type": "line", "color": "#ff0000", "strokeWidth": 2.5, "strokeDash": [7,5]},
      "encoding": {"x": {"field": "t", "type": "quantitative", "title": null}, "y": {"field": "p", "type": "quantitative", "title": null}}},
     {"data": {"name": "bi"}, "mark": {"type": "line", "color": "#000000", "strokeWidth": 3},
      "encoding": {"x": {"field": "t", "type": "quantitative", "title": null}, "y": {"field": "n", "type": "quantitative", "title": null}}},
     {"data": {"name": "bbox"}, "mark": {"type": "rect", "fill": null, "stroke": "black", "strokeWidth": 2.5},
      "encoding": {"x": {"field": "x0", "type": "quantitative", "title": null}, "x2": {"field": "x1"}, "y": {"field": "y0", "type": "quantitative", "title": null}, "y2": {"field": "y1"}}}
    ]
   }
  ]
 }
]
}
